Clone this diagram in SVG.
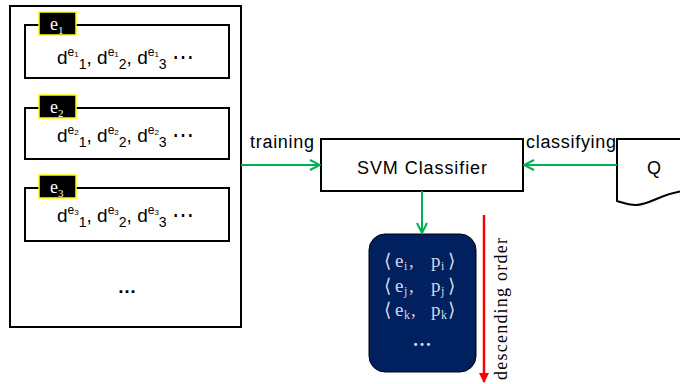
<svg xmlns="http://www.w3.org/2000/svg" width="680" height="384" viewBox="0 0 680 384">
<defs>
<style>
.box{fill:#fff;stroke:#000;stroke-width:2}
.lbl{fill:#000;stroke:#ff0;stroke-width:1.5}
.lt{font-family:"Liberation Serif",serif;font-size:18px;fill:#fff}
.d{font-family:"Liberation Sans",Arial,sans-serif;font-size:19px;fill:#000}
.s{font-family:"Liberation Sans",Arial,sans-serif;font-size:18px;fill:#000}
.g{stroke:#00b050;stroke-width:2;fill:none}
.nt{font-family:"Liberation Serif","DejaVu Serif",serif;font-size:19px;fill:#d4d8e4}
.ns{font-family:"Liberation Serif",serif;font-size:12px;fill:#d4d8e4}
.el{font-size:22px}
</style>
<marker id="ga" viewBox="0 0 12 12" refX="11" refY="6" markerWidth="12" markerHeight="12" markerUnits="userSpaceOnUse" orient="auto">
<path d="M1,1 L11,6 L1,11" fill="none" stroke="#00b050" stroke-width="2"/>
</marker>
<marker id="ra" viewBox="0 0 10 10" refX="9" refY="5" markerWidth="10" markerHeight="10" markerUnits="userSpaceOnUse" orient="auto">
<path d="M0,0 L10,5 L0,10 Z" fill="#f00"/>
</marker>
</defs>
<rect width="680" height="384" fill="#fff"/>

<g id="training-set">
<rect class="box" x="10" y="6" width="231" height="321"/>
<text class="d" x="127" y="293" text-anchor="middle" font-weight="bold">…</text>
</g>

<g id="entity1">
<rect class="box" x="25" y="25" width="204" height="53"/>
<rect class="lbl" x="39" y="12" width="37" height="23"/>
<text class="lt" x="50" y="30">e<tspan font-size="11" y="34">1</tspan></text>
<text class="d" x="57" y="64">d<tspan font-size="12" y="56">e</tspan><tspan font-size="8" y="57">1</tspan><tspan font-size="14" y="69">1</tspan><tspan y="64">, d</tspan><tspan font-size="12" y="56">e</tspan><tspan font-size="8" y="57">1</tspan><tspan font-size="14" y="69">2</tspan><tspan y="64">, d</tspan><tspan font-size="12" y="56">e</tspan><tspan font-size="8" y="57">1</tspan><tspan font-size="14" y="69">3</tspan><tspan y="64"> </tspan><tspan class="el" y="64">⋯</tspan></text>
</g>

<g id="entity2">
<rect class="box" x="25" y="108" width="204" height="51"/>
<rect class="lbl" x="39" y="95" width="37" height="23"/>
<text class="lt" x="50" y="113">e<tspan font-size="11" y="117">2</tspan></text>
<text class="d" x="57" y="142">d<tspan font-size="12" y="134">e</tspan><tspan font-size="8" y="135">2</tspan><tspan font-size="14" y="147">1</tspan><tspan y="142">, d</tspan><tspan font-size="12" y="134">e</tspan><tspan font-size="8" y="135">2</tspan><tspan font-size="14" y="147">2</tspan><tspan y="142">, d</tspan><tspan font-size="12" y="134">e</tspan><tspan font-size="8" y="135">2</tspan><tspan font-size="14" y="147">3</tspan><tspan y="142"> </tspan><tspan class="el" y="142">⋯</tspan></text>
</g>

<g id="entity3">
<rect class="box" x="25" y="188" width="204" height="53"/>
<rect class="lbl" x="39" y="175" width="37" height="23"/>
<text class="lt" x="50" y="193">e<tspan font-size="11" y="197">3</tspan></text>
<text class="d" x="57" y="222">d<tspan font-size="12" y="214">e</tspan><tspan font-size="8" y="215">3</tspan><tspan font-size="14" y="227">1</tspan><tspan y="222">, d</tspan><tspan font-size="12" y="214">e</tspan><tspan font-size="8" y="215">3</tspan><tspan font-size="14" y="227">2</tspan><tspan y="222">, d</tspan><tspan font-size="12" y="214">e</tspan><tspan font-size="8" y="215">3</tspan><tspan font-size="14" y="227">3</tspan><tspan y="222"> </tspan><tspan class="el" y="222">⋯</tspan></text>
</g>

<g id="svm">
<rect class="box" x="321" y="139" width="202" height="52"/>
<text class="s" x="422" y="174" text-anchor="middle" textLength="130">SVM Classifier</text>
</g>

<g id="query">
<path class="box" d="M617,139 H684 V191 C662,193 650,205 636,205 C627,205 621,202 617,201 Z"/>
<text class="s" x="654" y="174" text-anchor="middle">Q</text>
</g>

<g id="results">
<rect x="369" y="234" width="107" height="138" rx="16" ry="16" fill="#002060" stroke="#000" stroke-width="1"/>
<text class="nt" x="384" y="267">⟨</text><text class="nt" x="395" y="267">e</text><text class="ns" x="404" y="270">i</text><text class="nt" x="409" y="267">,</text><text class="nt" x="431" y="267">p</text><text class="ns" x="441" y="270">i</text><text class="nt" x="448" y="267">⟩</text>
<text class="nt" x="384" y="292">⟨</text><text class="nt" x="395" y="292">e</text><text class="ns" x="404" y="295">j</text><text class="nt" x="409" y="292">,</text><text class="nt" x="431" y="292">p</text><text class="ns" x="441" y="295">j</text><text class="nt" x="448" y="292">⟩</text>
<text class="nt" x="384" y="316">⟨</text><text class="nt" x="395" y="316">e</text><text class="ns" x="404" y="319">k</text><text class="nt" x="411" y="316">,</text><text class="nt" x="431" y="316">p</text><text class="ns" x="441" y="319">k</text><text class="nt" x="448" y="316">⟩</text>
<text class="nt" x="422" y="346" text-anchor="middle" font-weight="bold">…</text>
</g>

<g id="connectors">
<line class="g" x1="241" y1="165" x2="320" y2="165" marker-end="url(#ga)"/>
<text class="s" x="250" y="148" textLength="64">training</text>
<line class="g" x1="617" y1="165" x2="524" y2="165" marker-end="url(#ga)"/>
<text class="s" x="526" y="148" textLength="90">classifying</text>
<line class="g" x1="422" y1="191" x2="422" y2="233" marker-end="url(#ga)"/>
<line x1="484" y1="215" x2="484" y2="382" stroke="#f00" stroke-width="2.5" marker-end="url(#ra)"/>
<text x="507" y="380" transform="rotate(-90 507 380)" font-family="'Liberation Serif',serif" font-size="18" fill="#000" textLength="142">descending order</text>
</g>
</svg>
